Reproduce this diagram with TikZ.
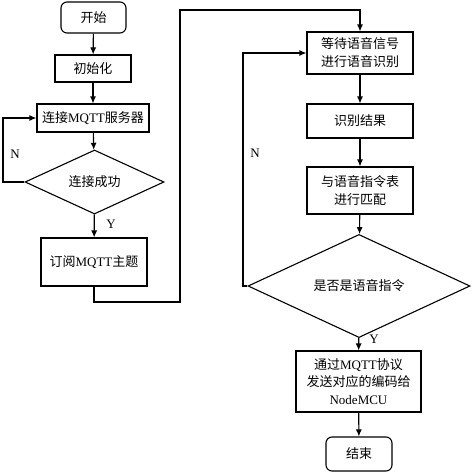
\documentclass[tikz,border=0pt]{standalone}
\usepackage{fontspec}
\setmainfont{Liberation Serif}
\newfontfamily\cjk{Noto Sans CJK SC}
\usetikzlibrary{shapes.geometric,arrows.meta}
\tikzset{
  base/.style={draw, line width=1.1pt, inner sep=0pt, align=center, font=\fontsize{13}{18}\selectfont},
  term/.style={base, rounded corners=6pt},
  proc/.style={base},
  dec/.style={base, diamond},
  conn/.style={line width=1.1pt, -{Latex[length=7pt,width=6pt]}},
  lab/.style={font=\fontsize{13}{15}\selectfont, inner sep=0pt}
}
\begin{document}
\begin{tikzpicture}[x=1pt,y=-1pt]
\useasboundingbox[fill=white] (0,0) rectangle (472,472);
% left column
\node[term, minimum width=65pt, minimum height=31pt] (start) at (93.5,17.5) {\cjk 开始};
\node[proc, minimum width=76pt, minimum height=27pt] (init) at (93,68.5) {\cjk 初始化};
\node[proc, minimum width=112pt, minimum height=28pt] (mqtt) at (93,118) {{\cjk 连接}MQTT{\cjk 服务器}};
\node[dec, minimum width=139pt, minimum height=56pt] (d1) at (94.5,182) {\cjk 连接成功};
\node[proc, minimum width=106pt, minimum height=48pt] (sub) at (94,262) {{\cjk 订阅}MQTT{\cjk 主题}};
% right column
\node[proc, minimum width=106pt, minimum height=42pt] (wait) at (360,53) {{\cjk 等待语音信号}\\{\cjk 进行语音识别}};
\node[proc, minimum width=106pt, minimum height=34pt] (res) at (360,121) {\cjk 识别结果};
\node[proc, minimum width=106pt, minimum height=47pt] (match) at (360,190.5) {{\cjk 与语音指令表}\\{\cjk 进行匹配}};
\node[dec, minimum width=222pt, minimum height=78pt] (d2) at (359,286) {\cjk 是否是语音指令};
\node[proc, minimum width=125pt, minimum height=61pt, font=\fontsize{13}{17.5}\selectfont] (send) at (358.5,381.5) {{\cjk 通过}MQTT{\cjk 协议}\\{\cjk 发送对应的编码给}\\NodeMCU};
\node[term, minimum width=66pt, minimum height=34pt] (end) at (359,454) {\cjk 结束};
% coordinates
\coordinate (c1) at (180,302);
\coordinate (c2) at (180,10);
\coordinate (l1) at (3,182);
\coordinate (l2) at (243,286);
% connectors
\draw[conn] (start) -- (init);
\draw[conn] (init) -- (mqtt);
\draw[conn] (mqtt) -- (d1);
\draw[conn] (d1) -- (sub);
\draw[conn] (d1.west) -- (l1) |- (mqtt.west);
\draw[conn] (sub.south) |- (c1) -- (c2) -| (wait.north);
\draw[conn] (wait) -- (res);
\draw[conn] (res) -- (match);
\draw[conn] (match) -- (d2);
\draw[conn] (d2.west) -- (l2) |- (wait.west);
\draw[conn] (d2) -- (send);
\draw[conn] (send) -- (end);
% labels
\node[lab] (n1) at (15,154) {N};
\node[lab] (y1) at (111,224) {Y};
\node[lab] (n2) at (255,153) {N};
\node[lab] (y2) at (374,339) {Y};
\end{tikzpicture}
\end{document}
